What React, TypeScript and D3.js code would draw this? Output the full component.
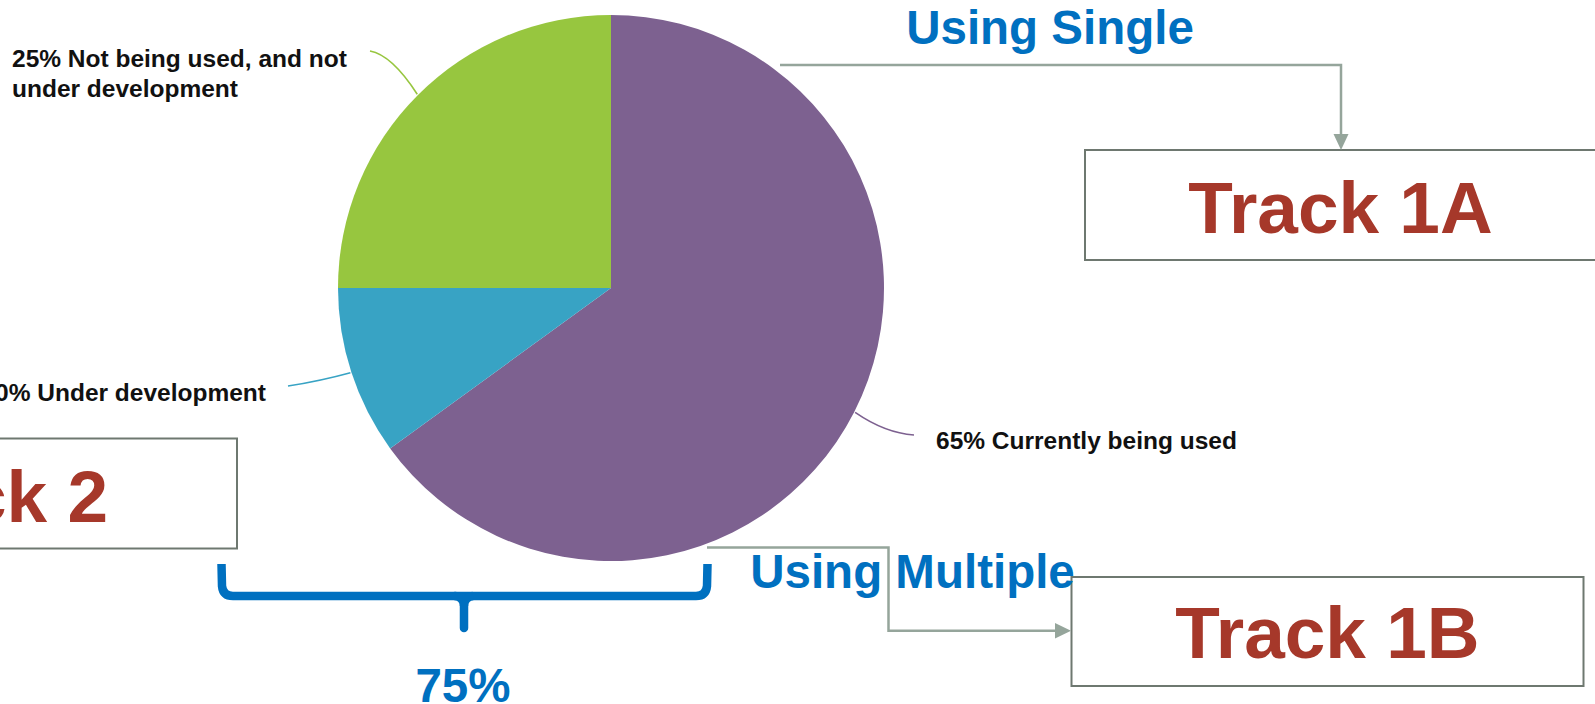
import React from "react";
import * as d3 from "d3";

// ---- data ----
const categories = ["Currently being used", "Under development", "Not being used, and not under development"];
const values = [65, 10, 25];
const labelLines = [
  ["65% Currently being used"],
  ["10% Under development"],
  ["25% Not being used, and not", "under development"],
];
const trackLabels = ["Track 1A", "Track 1B", "Track 2"];
const flowLabels = ["Using Single", "Using Multiple"];
const braceLabel = "75%";

const sliceColors = ["#7D6190", "#38A3C4", "#97C63F"];
const W = 1595;
const H = 704;

export default function App() {
  const cx = 611;
  const cy = 288;
  const r = 273;
  const pie = d3.pie<number>().sort(null).value((d) => d);
  const arcs = pie(values);
  const arc = d3.arc<d3.PieArcDatum<number>>().innerRadius(0).outerRadius(r);

  // label anchor positions (leader end points) and text positions
  const leaderEnds = [
    { x: 914, y: 435 },
    { x: 288, y: 386 },
    { x: 370, y: 51 },
  ];
  const leaderCtrl = [
    { x: 885, y: 433 },
    { x: 320, y: 381 },
    { x: 392, y: 55 },
  ];
  const textPos = [
    { x: 936, y: 448.5, anchor: "start" },
    { x: 266, y: 400.5, anchor: "end" },
    { x: 12, y: 66.5, anchor: "start" },
  ];

  const edgePoint = (a: d3.PieArcDatum<number>) => {
    const m = (a.startAngle + a.endAngle) / 2;
    return { x: cx + Math.sin(m) * (r + 1), y: cy - Math.cos(m) * (r + 1) };
  };

  const connColor = "#95A59B";
  const boxColor = "#6E7870";
  const redText = "#A6382A";
  const blueText = "#0070C0";
  const font = "'Liberation Sans', Arial, Helvetica, sans-serif";

  return (
    <svg
      width={W}
      height={H}
      style={{ position: "absolute", left: 0, top: 0, background: "#fff" }}
      fontFamily={font}
    >
      {/* pie */}
      <g transform={`translate(${cx},${cy})`}>
        {arcs.map((a, i) => (
          <path key={categories[i]} d={arc(a) || ""} fill={sliceColors[i]} />
        ))}
      </g>

      {/* leader lines */}
      {arcs.map((a, i) => {
        const p = edgePoint(a);
        const e = leaderEnds[i];
        const c = leaderCtrl[i];
        return (
          <path
            key={"leader" + i}
            d={`M${p.x},${p.y} Q${c.x},${c.y} ${e.x},${e.y}`}
            fill="none"
            stroke={sliceColors[i]}
            strokeWidth={1.6}
          />
        );
      })}

      {/* slice labels */}
      {labelLines.map((lines, i) => (
        <text
          key={"lbl" + i}
          x={textPos[i].x}
          y={textPos[i].y}
          textAnchor={textPos[i].anchor as any}
          fontSize={24.5}
          fontWeight="bold"
          fill="#111"
        >
          {lines.map((ln, j) => (
            <tspan key={j} x={textPos[i].x} dy={j === 0 ? 0 : 30}>
              {ln}
            </tspan>
          ))}
        </text>
      ))}

      {/* boxes */}
      <rect x={1085} y={150} width={520} height={110} fill="none" stroke={boxColor} strokeWidth={2} />
      <rect x={1071.5} y={577} width={512} height={109} fill="none" stroke={boxColor} strokeWidth={2} />
      <rect x={-277} y={438.5} width={514} height={110} fill="none" stroke={boxColor} strokeWidth={2} />

      {/* connectors */}
      <path d="M780,65 L1341,65 L1341,136" fill="none" stroke={connColor} strokeWidth={2.5} />
      <path d="M1333.5,134 L1348.5,134 L1341,150 Z" fill={connColor} />
      <path d="M707,547.5 L888.5,547.5 L888.5,630.7 L1057,630.7" fill="none" stroke={connColor} strokeWidth={2.5} />
      <path d="M1055,623 L1055,638.5 L1071,630.7 Z" fill={connColor} />

      {/* flow labels */}
      <text x={1050} y={44.3} textAnchor="middle" fontSize={47.5} fontWeight="bold" fill={blueText}>
        {flowLabels[0]}
      </text>
      <text x={912.5} y={588.3} textAnchor="middle" fontSize={47.5} fontWeight="bold" fill={blueText}>
        {flowLabels[1]}
      </text>

      {/* track labels */}
      <text x={1340.5} y={232.7} textAnchor="middle" fontSize={73} fontWeight="bold" fill={redText}>
        {trackLabels[0]}
      </text>
      <text x={1327.4} y={658.3} textAnchor="middle" fontSize={73} fontWeight="bold" fill={redText}>
        {trackLabels[1]}
      </text>
      <text x={108} y={521.7} textAnchor="end" fontSize={73} fontWeight="bold" fill={redText}>
        {trackLabels[2]}
      </text>

      {/* brace */}
      <path
        d="M221.5,564 L222,586 Q223,596 233,596 L696,596 Q706,596 707,586 L707.5,564"
        fill="none"
        stroke={blueText}
        strokeWidth={8.5}
      />
      <path
        d="M455,596 Q464,597 464,606 L464,628"
        fill="none"
        stroke={blueText}
        strokeWidth={8.5}
        strokeLinecap="round"
      />
      <path
        d="M473,596 Q464,597 464,606"
        fill="none"
        stroke={blueText}
        strokeWidth={8.5}
      />
      <text x={463} y={701.5} textAnchor="middle" fontSize={47.5} fontWeight="bold" fill={blueText}>
        {braceLabel}
      </text>
    </svg>
  );
}
